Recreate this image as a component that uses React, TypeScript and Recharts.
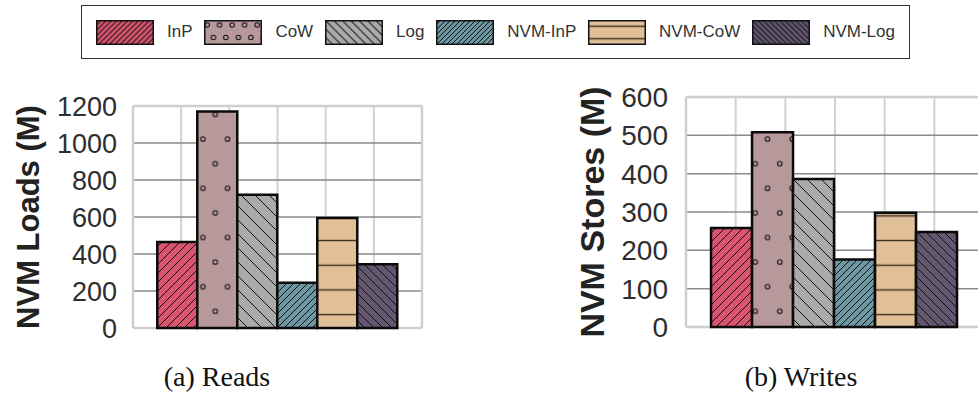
import React from 'react';
import { BarChart, Bar, XAxis, YAxis, CartesianGrid } from 'recharts';

// Series, in drawing order
const SERIES = ['InP', 'CoW', 'Log', 'NVM-InP', 'NVM-CoW', 'NVM-Log'];

// NVM loads (millions) per scheme
const READS = [465, 1170, 720, 245, 595, 345];
// NVM stores (millions) per scheme
const WRITES = [258, 508, 386, 176, 298, 248];

const READS_TICKS = [0, 200, 400, 600, 800, 1000, 1200];
const WRITES_TICKS = [0, 100, 200, 300, 400, 500, 600];

const GRID_COLUMNS = 6;

type Fill = { color: string; kind: 'fwd' | 'back' | 'dots' | 'hlines'; step: number };

// Fill colour and hatch style for each series
const FILLS: Record<string, Fill> = {
  InP: { color: '#d9546f', kind: 'fwd', step: 9 },
  CoW: { color: '#b8999b', kind: 'dots', step: 24.6 },
  Log: { color: '#aaaaaa', kind: 'back', step: 14 },
  'NVM-InP': { color: '#6b96a2', kind: 'fwd', step: 7 },
  'NVM-CoW': { color: '#e1bf97', kind: 'hlines', step: 24.7 },
  'NVM-Log': { color: '#63566f', kind: 'back', step: 9 },
};

const patternId = (name: string, scope: string) =>
  `fill-${scope}-${name.replace(/[^A-Za-z]/g, '')}`;

function HatchPattern({ id, fill }: { id: string; fill: Fill }) {
  const s = fill.step;
  if (fill.kind === 'dots') {
    return (
      <pattern id={id} patternUnits="userSpaceOnUse" width={s} height={s * 2}>
        <rect width={s} height={s * 2} fill={fill.color} />
        <circle cx={s * 0.25} cy={s * 0.4} r={2.3} fill="none" stroke="#111" strokeWidth={1} />
        <circle cx={s * 0.75} cy={s * 1.4} r={2.3} fill="none" stroke="#111" strokeWidth={1} />
      </pattern>
    );
  }
  if (fill.kind === 'hlines') {
    return (
      <pattern id={id} patternUnits="userSpaceOnUse" width={10} height={s}>
        <rect width={10} height={s} fill={fill.color} />
        <line x1={0} x2={10} y1={s * 0.5} y2={s * 0.5} stroke="#3a2c1e" strokeWidth={1.4} />
      </pattern>
    );
  }
  const d =
    fill.kind === 'fwd'
      ? `M0,${s} l${s},${-s} M${-s / 4},${s / 4} l${s / 2},${-s / 2} M${(3 * s) / 4},${(5 * s) / 4} l${s / 2},${-s / 2}`
      : `M0,0 l${s},${s} M${-s / 4},${(3 * s) / 4} l${s / 2},${s / 2} M${(3 * s) / 4},${-s / 4} l${s / 2},${s / 2}`;
  return (
    <pattern id={id} patternUnits="userSpaceOnUse" width={s} height={s}>
      <rect width={s} height={s} fill={fill.color} />
      <path d={d} stroke="#111" strokeWidth={1} />
    </pattern>
  );
}

function AxisTitle(props: any) {
  const { viewBox, text, fontSize, fromLeft } = props;
  if (!viewBox) return null;
  const cx = viewBox.x + fromLeft;
  const cy = viewBox.y + viewBox.height / 2;
  return (
    <text
      x={cx}
      y={cy}
      transform={`rotate(-90 ${cx} ${cy})`}
      textAnchor="middle"
      dominantBaseline="central"
      fontSize={fontSize}
      fontWeight="bold"
      fill="#222"
      fontFamily='"Liberation Sans", Arial, sans-serif'
    >
      {text}
    </text>
  );
}

const toRow = (panel: string, values: number[]) => {
  const row: Record<string, any> = { panel };
  SERIES.forEach((s, i) => {
    row[s] = values[i];
  });
  return [row];
};

type PanelProps = {
  panel: string;
  values: number[];
  ticks: number[];
  title: string;
  width: number;
  height: number;
  margin: { top: number; right: number; bottom: number; left: number };
  axisWidth: number;
  tickSize: number;
  tickGap: number;
  titleSize: number;
  titleFromLeft: number;
};

function Panel(p: PanelProps) {
  const data = toRow(p.panel, p.values);
  const top = p.ticks[p.ticks.length - 1];
  return (
    <BarChart width={p.width} height={p.height} data={data} margin={p.margin} barGap={0} barCategoryGap="8.4%">
      <CartesianGrid
        horizontal={false}
        stroke="#d2d2d2"
        strokeWidth={2}
        verticalCoordinatesGenerator={({ offset }: any) =>
          Array.from({ length: GRID_COLUMNS - 1 }, (_, i) => offset.left + (offset.width * (i + 1)) / GRID_COLUMNS)
        }
      />
      <CartesianGrid vertical={false} stroke="#8a8a8a" strokeWidth={1.5} />
      <CartesianGrid
        stroke="#cfcfcf"
        strokeWidth={2.5}
        verticalCoordinatesGenerator={({ offset }: any) => [offset.left, offset.left + offset.width]}
        horizontalCoordinatesGenerator={({ offset }: any) => [offset.top, offset.top + offset.height]}
      />
      <XAxis dataKey="panel" hide />
      <YAxis
        domain={[0, top]}
        ticks={p.ticks}
        interval={0}
        width={p.axisWidth}
        axisLine={false}
        tickLine={false}
        tickSize={0}
        tickMargin={p.tickGap}
        tick={{ fontSize: p.tickSize, fill: '#2e2e2e', fontFamily: '"Liberation Sans", Arial, sans-serif' }}
        label={<AxisTitle text={p.title} fontSize={p.titleSize} fromLeft={p.titleFromLeft} />}
      />
      {SERIES.map((s) => (
        <Bar
          key={s}
          dataKey={s}
          fill={`url(#${patternId(s, 'bar')})`}
          stroke="#0a0a0a"
          strokeWidth={2.5}
          isAnimationActive={false}
        />
      ))}
    </BarChart>
  );
}

function LegendBox() {
  return (
    <div
      style={{
        position: 'absolute',
        left: 81,
        top: 5,
        width: 829,
        height: 54,
        boxSizing: 'border-box',
        border: '1.5px solid #333',
        display: 'flex',
        alignItems: 'center',
        justifyContent: 'space-between',
        padding: '0 14px',
        background: '#fff',
      }}
    >
      {SERIES.map((s) => (
        <div key={s} style={{ display: 'flex', alignItems: 'center' }}>
          <svg width={58} height={25} style={{ display: 'block', flexShrink: 0 }}>
            <defs>
              <HatchPattern
                id={patternId(s, 'key')}
                fill={{
                  ...FILLS[s],
                  step: FILLS[s].kind === 'dots' || FILLS[s].kind === 'hlines' ? 12.5 : Math.max(5, FILLS[s].step * 0.6),
                }}
              />
            </defs>
            <rect x={0.75} y={0.75} width={56.5} height={23.5} fill={`url(#${patternId(s, 'key')})`} stroke="#111" strokeWidth={1.5} />
          </svg>
          <span
            style={{
              marginLeft: 13,
              fontFamily: '"Liberation Sans", Arial, sans-serif',
              fontSize: 17,
              color: '#333',
              whiteSpace: 'nowrap',
            }}
          >
            {s}
          </span>
        </div>
      ))}
    </div>
  );
}

const captionStyle: React.CSSProperties = {
  position: 'absolute',
  top: 359,
  width: 220,
  textAlign: 'center',
  fontFamily: '"Liberation Serif", "DejaVu Serif", serif',
  fontSize: 28,
  color: '#111',
  lineHeight: '36px',
};

export default function App() {
  return (
    <div
      style={{
        position: 'absolute',
        left: 0,
        top: 0,
        width: 978,
        height: 396,
        overflow: 'hidden',
        background: '#fff',
      }}
    >
      <svg width={0} height={0} style={{ position: 'absolute' }}>
        <defs>
          {SERIES.map((s) => (
            <HatchPattern key={s} id={patternId(s, 'bar')} fill={FILLS[s]} />
          ))}
        </defs>
      </svg>

      <LegendBox />

      <div style={{ position: 'absolute', left: 0, top: 80 }}>
        <Panel
          panel="Reads"
          values={READS}
          ticks={READS_TICKS}
          title="NVM Loads (M)"
          width={440}
          height={280}
          margin={{ top: 26, right: 18, bottom: 32, left: 0 }}
          axisWidth={133}
          tickSize={27}
          tickGap={16}
          titleSize={31}
          titleFromLeft={28}
        />
      </div>

      <div style={{ position: 'absolute', left: 540, top: 80 }}>
        <Panel
          panel="Writes"
          values={WRITES}
          ticks={WRITES_TICKS}
          title="NVM Stores (M)"
          width={460}
          height={280}
          margin={{ top: 17, right: 16, bottom: 33, left: 0 }}
          axisWidth={146}
          tickSize={28}
          tickGap={18}
          titleSize={34}
          titleFromLeft={52}
        />
      </div>

      <div style={{ ...captionStyle, left: 107 }}>(a) Reads</div>
      <div style={{ ...captionStyle, left: 691 }}>(b) Writes</div>
    </div>
  );
}
